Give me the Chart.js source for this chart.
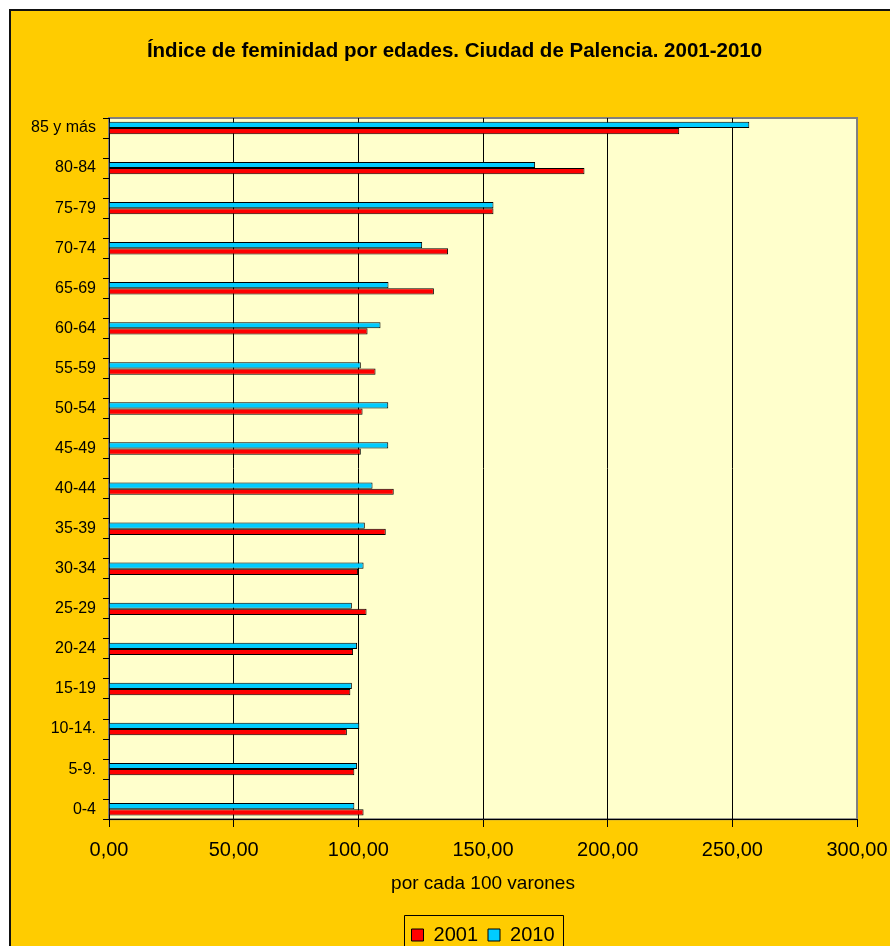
<!DOCTYPE html>
<html>
<head>
<meta charset="utf-8">
<script src="https://cdn.jsdelivr.net/npm/chart.js@4/dist/chart.umd.min.js"></script>
<style>
html,body{margin:0;padding:0;background:#fff;overflow:hidden;}
#c{display:block;}
</style>
</head>
<body>
<canvas id="c" width="890" height="955"></canvas>
<script>
// ---- data (top to bottom as shown) ----
const ageGroups = ['85 y más','80-84','75-79','70-74','65-69','60-64','55-59','50-54','45-49',
                   '40-44','35-39','30-34','25-29','20-24','15-19','10-14.','5-9.','0-4'];
const values2001 = [228.7,190.7,154.2,136.0,130.3,103.7,106.9,101.7,101.0,
                    114.2,111.0,99.9,103.3,97.9,96.8,95.4,98.4,102.1];
const values2010 = [256.8,170.9,154.2,125.6,112.1,108.9,101.0,112.0,112.0,
                    105.7,102.6,102.1,97.4,99.5,97.4,100.4,99.5,98.4];
const xTickValues = [0,50,100,150,200,250,300];
const chartTitle = 'Índice de feminidad por edades. Ciudad de Palencia. 2001-2010';
const axisTitle = 'por cada 100 varones';

// spacer slots between age groups (as in the original axis)
const slotLabels = [], slot2001 = [], slot2010 = [];
ageGroups.forEach((g, i) => {
  if (i > 0) { slotLabels.push(''); slot2001.push(null); slot2010.push(null); }
  slotLabels.push(g); slot2001.push(values2001[i]); slot2010.push(values2010[i]);
});

const FONT = 'Liberation Sans, Arial, sans-serif';
Chart.defaults.font.family = FONT;
Chart.defaults.color = '#000';

const framePlugin = {
  id: 'frame',
  beforeDraw(chart) {
    const {ctx, chartArea: a} = chart;
    ctx.save();
    ctx.fillStyle = '#FFFFFF';
    ctx.fillRect(0, 0, chart.width, chart.height);
    ctx.fillStyle = '#FFCC00';
    ctx.fillRect(10, 10, chart.width, chart.height);
    ctx.fillStyle = '#111';
    ctx.fillRect(9, 9, 2, chart.height);
    ctx.fillRect(9, 9, chart.width, 2);
    ctx.fillStyle = '#FFFFCC';
    ctx.fillRect(a.left, a.top, a.right - a.left, a.bottom - a.top);
    ctx.strokeStyle = '#808080';
    ctx.lineWidth = 2;
    ctx.strokeRect(a.left, a.top, a.right - a.left, a.bottom - a.top);
    ctx.restore();
  },
  afterDraw(chart) {
    const hb = chart.legend && chart.legend.legendHitBoxes;
    if (!hb || !hb.length) return;
    const first = hb[0], last = hb[hb.length - 1];
    const ctx = chart.ctx;
    ctx.save();
    ctx.strokeStyle = '#000';
    ctx.lineWidth = 1;
    const l = Math.round(first.left - 8) + 0.5;
    const r = Math.round(last.left + last.width + 9) + 0.5;
    const t = Math.round(first.top - 10) + 0.5;
    ctx.beginPath();
    ctx.moveTo(l, chart.height + 5);
    ctx.lineTo(l, t);
    ctx.lineTo(r, t);
    ctx.lineTo(r, chart.height + 5);
    ctx.stroke();
    ctx.restore();
  }
};

new Chart(document.getElementById('c'), {
  type: 'bar',
  data: {
    labels: slotLabels,
    datasets: [
      { label: '2010', data: slot2010, backgroundColor: '#00CCFF', borderColor: '#000', borderWidth: 1,
        categoryPercentage: 0.62, barPercentage: 1.0 },
      { label: '2001', data: slot2001, backgroundColor: '#FF0000', borderColor: '#000', borderWidth: 1,
        categoryPercentage: 0.62, barPercentage: 1.0 }
    ]
  },
  options: {
    indexAxis: 'y',
    responsive: false,
    animation: false,
    devicePixelRatio: 1,
    layout: { padding: { left: 22, right: 3, top: 0, bottom: 0 } },
    plugins: {
      title: {
        display: true, text: chartTitle, color: '#000',
        font: { family: FONT, size: 20.5, weight: 'bold', lineHeight: 1.2 },
        padding: { top: 39.2, bottom: 54.2 }
      },
      legend: {
        position: 'bottom', fullSize: false, reverse: true,
        labels: { font: { family: FONT, size: 20 }, color: '#000', boxWidth: 12, boxHeight: 12, padding: 10 }
      },
      tooltip: { enabled: false }
    },
    scales: {
      x: {
        type: 'linear', min: 0, max: 300,
        afterBuildTicks: (s) => { s.ticks = xTickValues.map(v => ({ value: v })); },
        ticks: {
          padding: 2.4, color: '#000', font: { family: FONT, size: 20 },
          callback: (v) => Number(v).toFixed(2).replace('.', ',')
        },
        grid: {
          color: (c) => (c.tick && c.tick.value === 300) ? 'rgba(0,0,0,0)' : '#000',
          tickColor: '#000', lineWidth: 1, tickLength: 16.6, tickBorderDash: [7, 60]
        },
        border: { color: '#000', width: 1 },
        title: {
          display: true, text: axisTitle, color: '#000',
          font: { family: FONT, size: 19, lineHeight: 1.2 },
          padding: { top: 0, bottom: 19.4 }
        },
        afterFit: (s) => { s.height = 95.8; }
      },
      y: {
        type: 'category',
        ticks: { autoSkip: false, padding: 7, color: '#000', font: { family: FONT, size: 16 } },
        grid: { drawOnChartArea: false, drawTicks: true, tickLength: 6, color: '#000' },
        border: { color: '#000', width: 1 },
        afterFit: (s) => { s.width = 87; }
      }
    }
  },
  plugins: [framePlugin]
});
</script>
</body>
</html>
